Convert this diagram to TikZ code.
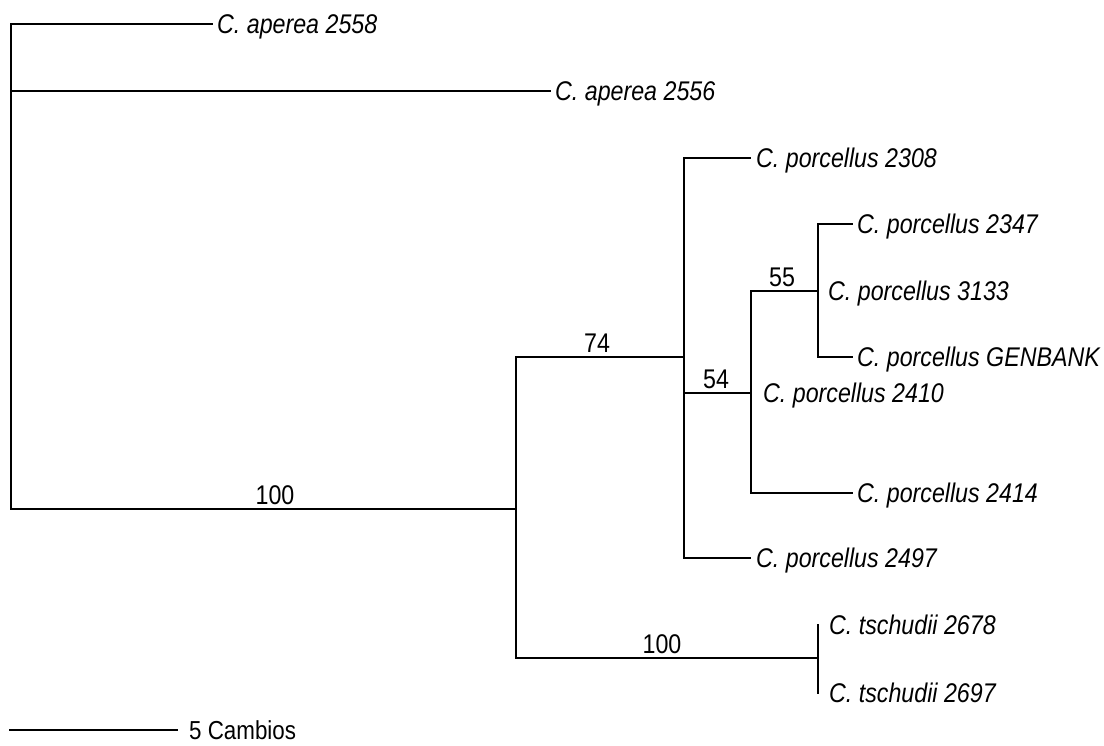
\documentclass[tikz,border=0pt]{standalone}
\usepackage{fontspec}
\setmainfont[FakeStretch=0.86]{Liberation Sans}
\begin{document}
\begin{tikzpicture}[x=1pt,y=-1pt,
  branch/.style={line width=2pt, line cap=rect},
  leaf/.style={anchor=west, inner sep=0pt, text height=19.3pt, text depth=0pt,
    font=\fontsize{27}{32}\selectfont\itshape},
  support/.style={anchor=base, inner sep=0pt, font=\fontsize{27}{32}\selectfont},
  scalelabel/.style={anchor=west, inner sep=0pt, text height=19.3pt, text depth=0pt,
    font=\fontsize{26}{31}\selectfont},
]
\useasboundingbox (0,0) rectangle (1104,745);

% internal nodes
\coordinate (root) at (11,509);
\coordinate (nA) at (516,509);
\coordinate (nB) at (684,357);
\coordinate (nC) at (751,393);
\coordinate (nD) at (818,291);
\coordinate (nE) at (818,658);

% leaves
\node[leaf] (l2558) at (217,24) {C. aperea 2558};
\node[leaf] (l2556) at (555,91) {C. aperea 2556};
\node[leaf] (l2308) at (756,158) {C. porcellus 2308};
\node[leaf] (l2347) at (857,224) {C. porcellus 2347};
\node[leaf] (l3133) at (828,291) {C. porcellus 3133};
\node[leaf] (lgen) at (857,357) {C. porcellus GENBANK};
\node[leaf] (l2410) at (763,393) {C. porcellus 2410};
\node[leaf] (l2414) at (857,493) {C. porcellus 2414};
\node[leaf] (l2497) at (756,558) {C. porcellus 2497};
\node[leaf] (l2678) at (829,625) {C. tschudii 2678};
\node[leaf] (l2697) at (829,693) {C. tschudii 2697};

% support values
\node[support] (s100a) at (275,504) {100};
\node[support] (s74) at (597,352) {74};
\node[support] (s54) at (716,388) {54};
\node[support] (s55) at (782,286) {55};
\node[support] (s100b) at (662,653) {100};

% branches
\draw[branch] (root) |- ([xshift=-5pt]l2558.west);
\draw[branch] (root) |- ([xshift=-5pt]l2556.west);
\draw[branch] (root) -- (nA);
\draw[branch] (nA) |- (nB);
\draw[branch] (nA) |- (nE);
\draw[branch] (nB) |- ([xshift=-6pt]l2308.west);
\draw[branch] (nB) |- (nC);
\draw[branch] (nB) |- ([xshift=-6pt]l2497.west);
\draw[branch] (nC) |- (nD);
\draw[branch] (nC) |- ([xshift=-5pt]l2414.west);
\draw[branch] (nD) |- ([xshift=-5pt]l2347.west);
\draw[branch] (nD) |- ([xshift=-5pt]lgen.west);
\draw[branch] (nE) -- (nE |- l2678.west);
\draw[branch] (nE) -- (nE |- l2697.west);

% scale bar
\coordinate (sb) at (10,730);
\node[scalelabel] (scale) at (189,730) {5 Cambios};
\draw[branch] (sb) -- ([xshift=-12pt]scale.west);
\end{tikzpicture}
\end{document}
